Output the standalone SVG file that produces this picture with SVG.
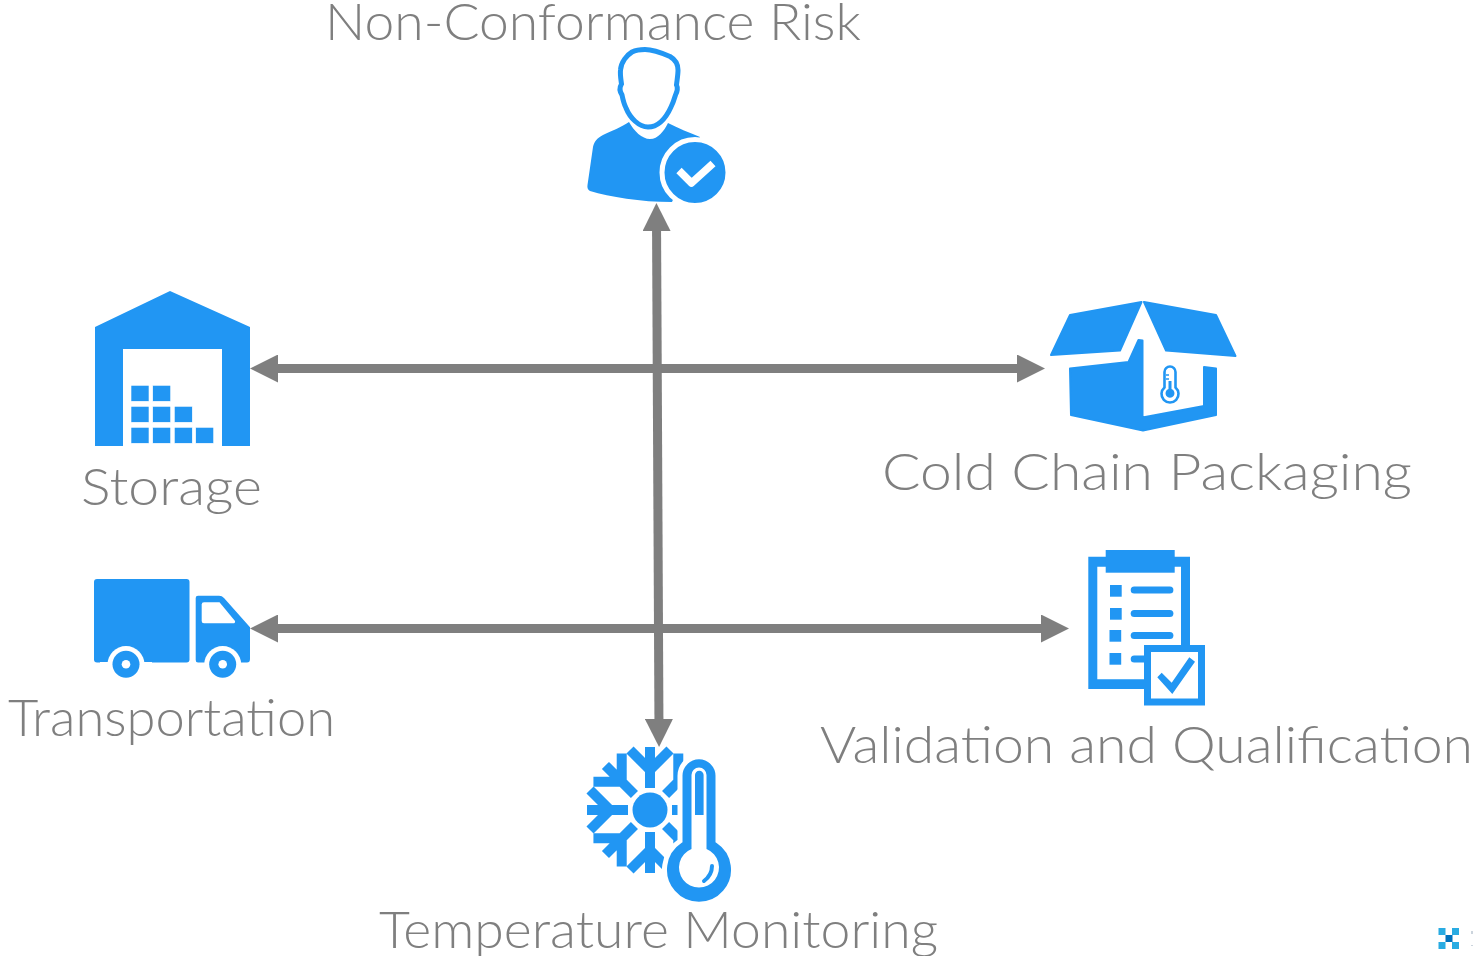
<svg xmlns="http://www.w3.org/2000/svg" xmlns:xlink="http://www.w3.org/1999/xlink" width="1473" height="956" viewBox="0 0 1473 956">
<style>
.lb{font-family:"Lato","Open Sans","Liberation Sans",sans-serif;font-weight:300;font-size:51px;fill:#7f7f7f}
.ic{fill:#2196f3}
.wh{fill:#fff}
.cn{stroke:#7f7f7f;stroke-width:9;fill:none}
.sf{stroke:#2196f3;stroke-width:10;fill:none}
.blk{fill:#2196f3;stroke:#fff;stroke-width:.6}
</style>
<defs>
<marker id="ah" viewBox="0 0 28 28" refX="14" refY="14" markerUnits="userSpaceOnUse" markerWidth="28" markerHeight="28" orient="auto-start-reverse"><path d="M0 0L28 14L0 28Z" fill="#7f7f7f"/></marker>
<g id="arm"><path class="sf" d="M650 788V747M630 750L650 770L670 750"/></g>
</defs>
<rect width="1473" height="956" fill="#fff"/>
<g id="connectors">
<path class="cn" d="M264 368.500H1031" marker-start="url(#ah)" marker-end="url(#ah)"/>
<path class="cn" d="M264 628.500H1055" marker-start="url(#ah)" marker-end="url(#ah)"/>
<path class="cn" d="M656.500 217L659 733" marker-start="url(#ah)" marker-end="url(#ah)"/>
</g>
<g id="node-risk">
<text class="lb" x="325" y="40" textLength="536" lengthAdjust="spacingAndGlyphs">Non-Conformance Risk</text>
<path class="ic" d="M629 122C622 127 611 131 603 135C597 138 594 142 593 147L587.500 185C587 188 588 190 590 191C610 197 640 202 672 202L700 137C690 133 678 128 668 123C664 131 658 139 650 139C642 139 634 131 629 122Z"/>
<path d="M645 49.500C653 49.500 662 53 670 56.500C676 60 678 64 678 70C678 75 677 80 676.500 85C678 88 677 92 675.500 95C674 100 673 103 671 107C666 118 658 127 648 127C639 127 630 118 626 108C624 104 623 100 622 95C620 92 619 88 621.500 84C621 80 620 75 620.500 70C621 62 627 55 632 52C636 50 641 49.500 645 49.500Z" fill="#fff" stroke="#2196f3" stroke-width="5"/>
<circle class="ic" cx="695" cy="172.500" r="33" stroke="#fff" stroke-width="5"/>
<path d="M679 170.500L691.500 183L713 163.500" fill="none" stroke="#fff" stroke-width="7.500" stroke-linejoin="round"/>
</g>
<g id="node-storage">
<text class="lb" x="81" y="505" textLength="181" lengthAdjust="spacingAndGlyphs">Storage</text>
<path class="ic" d="M170 291L250 327V446H222V349H123V446H95V327Z"/>
<g class="blk">
<rect x="131" y="385.300" width="18" height="16"/><rect x="152.700" y="385.300" width="18" height="16"/>
<rect x="131" y="406.300" width="18" height="16"/><rect x="152.700" y="406.300" width="18" height="16"/><rect x="174.300" y="406.300" width="18" height="16"/>
<rect x="131" y="427.300" width="18" height="16"/><rect x="152.700" y="427.300" width="18" height="16"/><rect x="174.300" y="427.300" width="18" height="16"/><rect x="195.700" y="427.300" width="18" height="16"/>
</g>
</g>
<g id="node-packaging">
<text class="lb" x="882" y="490" textLength="530" lengthAdjust="spacingAndGlyphs">Cold Chain Packaging</text>
<path class="ic" stroke="#2196f3" stroke-width="2" stroke-linejoin="round" d="M1141.500 302L1070 315L1051 355L1120 350.500Z"/>
<path class="ic" stroke="#2196f3" stroke-width="2" stroke-linejoin="round" d="M1144 302L1216 315L1235.500 356L1166 350.500Z"/>
<path class="ic" stroke="#2196f3" stroke-width="2" stroke-linejoin="round" d="M1070 368.500L1128.500 362L1138.500 340L1142.500 340.500V417.500L1204 406V367L1216 368.500V415L1143 430.500L1071 415Z"/>
<path d="M1164.500 372A5.500 5.500 0 0 1 1175.500 372V387.500A8.500 8.500 0 1 1 1164.500 387.500Z" fill="#fff" stroke="#2196f3" stroke-width="2.600"/>
<path class="ic" d="M1168.500 381H1171.500V389A4.500 4.500 0 1 1 1168.500 389Z"/>
<path d="M1166 375H1169M1166 379H1169" stroke="#2196f3" stroke-width="1.300"/>
</g>
<g id="node-transportation">
<text class="lb" x="8" y="736" textLength="327" lengthAdjust="spacingAndGlyphs">Transportation</text>
<rect class="ic" x="94" y="579" width="95.500" height="83.500" rx="3"/>
<path class="ic" d="M198 595.700H219Q222 595.700 224 598L250 627.300V659Q250 662.500 247 662.500H198Q195.700 662.500 195.700 660V598Q195.700 595.700 198 595.700Z"/>
<path class="wh" d="M204 602.300H219.500L235 621Q235.500 623.300 233 623.300H204Q201.700 623.300 201.700 621V604.500Q201.700 602.300 204 602.300Z"/>
<circle class="wh" cx="126" cy="664.500" r="18.500"/><path class="wh" d="M100 662h52v20h-52z"/>
<circle class="wh" cx="222.700" cy="664.500" r="18.500"/><path class="wh" d="M197 663h52v20h-52z"/>
<circle class="ic" cx="126" cy="664.300" r="13.500"/><circle class="wh" cx="126" cy="664.300" r="4.300"/>
<circle class="ic" cx="222.700" cy="664.300" r="13.500"/><circle class="wh" cx="222.700" cy="664.300" r="4.300"/>
</g>
<g id="node-validation">
<text class="lb" x="820" y="763" textLength="653" lengthAdjust="spacingAndGlyphs">Validation and Qualification</text>
<path class="ic" fill-rule="evenodd" d="M1088.300 556.700H1190V689H1088.300ZM1097.300 566.700V679.300H1181V566.700Z"/>
<rect class="ic" x="1105.700" y="550" width="69" height="22.700"/>
<g class="ic">
<rect x="1110" y="585" width="11.700" height="11.700"/><rect x="1110" y="608" width="11.700" height="11.700"/><rect x="1109.500" y="630" width="11.700" height="11.700"/><rect x="1109.500" y="653" width="11.700" height="11.700"/>
<rect x="1130.700" y="586.500" width="42.700" height="7" rx="3.500"/><rect x="1130.700" y="610" width="42.700" height="7" rx="3.500"/><rect x="1130.700" y="632" width="42.700" height="7" rx="3.500"/><rect x="1130.700" y="655.500" width="42.700" height="7" rx="3.500"/>
</g>
<rect x="1147.500" y="648.500" width="54" height="53.500" fill="#fff" stroke="#2196f3" stroke-width="7"/>
<path class="ic" d="M1157.300 677.300L1161.700 672.700L1171.700 682.700L1189.300 657.300L1195 661.700L1172.300 694Z"/>
</g>
<g id="node-temperature">
<text class="lb" x="379" y="948" textLength="559" lengthAdjust="spacingAndGlyphs">Temperature Monitoring</text>
<circle class="ic" cx="650" cy="810" r="17.500"/>
<use xlink:href="#arm" href="#arm"/>
<use xlink:href="#arm" href="#arm" transform="rotate(45 650 810)"/>
<use xlink:href="#arm" href="#arm" transform="rotate(90 650 810)"/>
<use xlink:href="#arm" href="#arm" transform="rotate(135 650 810)"/>
<use xlink:href="#arm" href="#arm" transform="rotate(180 650 810)"/>
<use xlink:href="#arm" href="#arm" transform="rotate(225 650 810)"/>
<use xlink:href="#arm" href="#arm" transform="rotate(270 650 810)"/>
<use xlink:href="#arm" href="#arm" transform="rotate(315 650 810)"/>
<path class="ic" stroke="#fff" stroke-width="5" d="M680 775.800A19 19 0 0 1 718 775.800V841A34.500 34.500 0 1 1 680 841Z"/>
<path class="wh" d="M691.500 775A7.500 7.500 0 0 1 706.500 775V849A20 20 0 1 1 691.500 849Z"/>
<path class="ic" d="M695 775A4.300 4.300 0 0 1 703.600 775V815H695Z"/>
<path d="M712 866Q712 875 704 881" fill="none" stroke="#2196f3" stroke-width="4" stroke-linecap="round"/>
</g>
<g id="logo-fragment">
<g fill="#29abe2"><rect x="1438.500" y="928" width="7" height="7"/><rect x="1452" y="928" width="7" height="7"/><rect x="1438.500" y="942" width="7" height="7"/><rect x="1452" y="942" width="7" height="7"/></g>
<rect x="1445.500" y="935" width="7" height="7" fill="#0071bc"/>
<path d="M1472 931v3M1472 945v1" stroke="#9ab" stroke-width="1"/>
</g>
</svg>
